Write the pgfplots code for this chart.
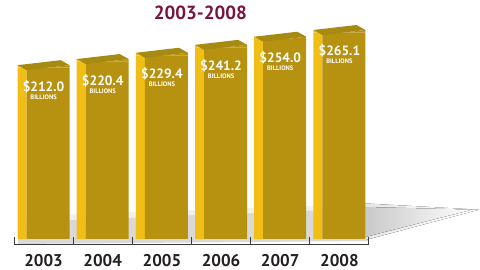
\documentclass[border=0pt]{standalone}
\usepackage{fontspec}
\setmainfont{PT Sans}
\usepackage{pgfplots}
\pgfplotsset{compat=1.18}
\definecolor{barfront}{HTML}{B79210}
\definecolor{barside}{HTML}{F0BE14}
\definecolor{bartopc}{HTML}{A68A12}
\definecolor{titlec}{HTML}{781441}
\definecolor{labc}{HTML}{231F20}
\definecolor{axc}{HTML}{3A3A3A}
\pgfdeclareplotmark{bartop}{%
  \pgfsetfillcolor{barfront}%
  \pgfpathmoveto{\pgfpoint{4.5pt}{0pt}}\pgfpathlineto{\pgfpoint{26pt}{0pt}}\pgfpathlineto{\pgfpoint{26pt}{2.5pt}}\pgfpathclose\pgfusepath{fill}%
  \pgfsetfillcolor{barside}%
  \pgfpathmoveto{\pgfpoint{-26pt}{0pt}}\pgfpathlineto{\pgfpoint{-21.5pt}{0pt}}\pgfpathlineto{\pgfpoint{-26pt}{2.5pt}}\pgfpathclose\pgfusepath{fill}%
  \pgfsetfillcolor{bartopc}%
  \pgfpathmoveto{\pgfpoint{-17pt}{-2.5pt}}\pgfpathlineto{\pgfpoint{26pt}{2.5pt}}\pgfpathlineto{\pgfpoint{17pt}{7.5pt}}\pgfpathlineto{\pgfpoint{-26pt}{2.5pt}}\pgfpathclose\pgfusepath{fill}%
}
\begin{document}
\begin{tikzpicture}
\path[use as bounding box] (0,0) rectangle (480pt,270pt);
\begin{axis}[at={(14pt,31pt)}, anchor=south west, scale only axis,
  width=355pt, height=206.5pt, xmin=-0.5, xmax=5.5,
  ymode=log, log origin y=infty, ymin=71.4, ymax=265.1, hide axis, clip=false]
% shadow (soft, layered)
\fill[gray!30] (axis description cs:0.0113,-0.0242) -- (axis description cs:1.0,-0.0097) -- (axis description cs:1.0,0.1500) -- (axis description cs:0.0113,0.0823) -- cycle;
\fill[gray!12] (axis description cs:0.0113,0.0823) -- (axis description cs:1.0,0.1500) -- (axis description cs:1.0,0.1700) -- (axis description cs:0.0113,0.1100) -- cycle;
\fill[left color=gray!20, right color=white] (axis description cs:0.99,-0.005) -- (axis description cs:1.31,0.1420) -- (axis description cs:0.99,0.1720) -- cycle;
\fill[left color=gray!42, right color=white] (axis description cs:0.99,0.0100) -- (axis description cs:1.29,0.1420) -- (axis description cs:0.99,0.1550) -- cycle;
% side faces
\addplot[ybar, bar width=9pt, bar shift=-21.5pt, fill=barside, draw=none]
  coordinates {(0,212.0) (1,220.4) (2,229.4) (3,241.2) (4,254.0) (5,265.1)};
% front faces
\addplot[ybar, bar width=43pt, bar shift=4.5pt, fill=barfront, draw=none,
  point meta=explicit symbolic,
  nodes near coords={{\fontsize{13.5}{13.5}\selectfont\$\pgfplotspointmeta}\\{\fontsize{6.5}{8}\selectfont BILLIONS}},
  every node near coord/.append style={anchor=north, inner sep=0pt, yshift=-12.5pt, text=white, align=center, font=\fontsize{6.5}{8}\selectfont\bfseries}]
  coordinates {(0,212.0)[212.0] (1,220.4)[220.4] (2,229.4)[229.4] (3,241.2)[241.2] (4,254.0)[254.0] (5,265.1)[265.1]};
% top faces
\addplot[only marks, mark=bartop]
  coordinates {(0,212.0) (1,220.4) (2,229.4) (3,241.2) (4,254.0) (5,265.1)};
\node[anchor=base, text=titlec, font=\fontsize{19}{19}\selectfont\bfseries, yshift=12.5pt] at (axis description cs:0.525,1) {2003-2008};
\end{axis}
% x axis bracket and year labels
\begin{axis}[at={(14pt,25pt)}, anchor=south west, scale only axis,
  width=355pt, height=10pt, xmin=-0.5, xmax=5.5, ymin=0, ymax=1,
  axis x line*=bottom, axis y line=none,
  xtick={0,...,5}, xticklabels={2003,2004,2005,2006,2007,2008},
  major tick length=0pt,
  minor xtick={-0.5,0.5,...,5.5}, minor tick length=8pt, tick align=inside,
  x axis line style={line width=1pt, color=axc},
  tick style={line width=1pt, color=axc},
  xticklabel style={font=\fontsize{17}{17}\selectfont\bfseries, text=labc, inner sep=0pt, yshift=-9pt}]
\end{axis}
\end{tikzpicture}
\end{document}
